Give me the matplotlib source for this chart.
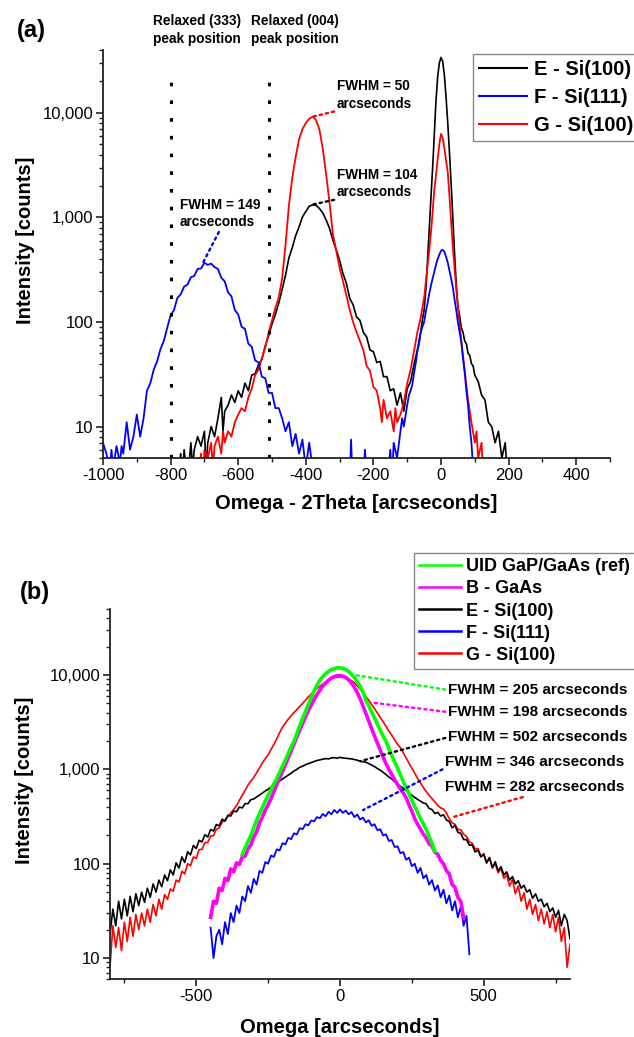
import numpy as np
import matplotlib
matplotlib.use('Agg')
import matplotlib.pyplot as plt
from matplotlib.ticker import MultipleLocator, FuncFormatter, LogLocator, NullFormatter

plt.rcParams['font.family'] = ['Liberation Sans', 'DejaVu Sans']
plt.rcParams['axes.unicode_minus'] = False

# ---------------- panel (a): omega-2theta scans, (x arcsec, counts) ----------------
E_a = [(-780, 3), (-770, 5.5), (-765, 3), (-760, 6), (-750, 3), (-740, 7), (-735, 4), (-730, 6),
       (-720, 8), (-710, 6.5), (-700, 9), (-695, 4), (-690, 7), (-680, 10), (-670, 8), (-660, 12),
       (-650, 19), (-645, 9), (-640, 14), (-630, 16), (-620, 20), (-610, 17), (-600, 22), (-590, 19),
       (-580, 26), (-570, 22), (-560, 31), (-550, 32), (-540, 39), (-530, 44), (-520, 59), (-510, 74),
       (-500, 96), (-490, 118), (-480, 152), (-470, 205), (-460, 280), (-450, 410), (-440, 515),
       (-430, 670), (-420, 810), (-410, 1010), (-400, 1140), (-390, 1280), (-380, 1320), (-370, 1310),
       (-360, 1220), (-350, 1110), (-340, 950), (-330, 790), (-320, 610), (-310, 490), (-300, 390),
       (-290, 290), (-280, 235), (-270, 168), (-260, 146), (-250, 112), (-240, 104), (-230, 80),
       (-220, 72), (-210, 54), (-200, 52), (-190, 41), (-180, 42), (-170, 30), (-160, 30), (-150, 22),
       (-140, 23), (-130, 16), (-120, 21), (-110, 14), (-100, 23), (-90, 27), (-80, 39), (-70, 54),
       (-60, 80), (-55, 105), (-50, 130), (-45, 200), (-40, 380), (-35, 750), (-30, 1500), (-25, 2900),
       (-20, 6000), (-15, 12800), (-10, 22000), (-5, 30000), (0, 34000), (5, 31000), (10, 23000),
       (15, 14000), (20, 8000), (25, 4200), (30, 2100), (35, 1000), (40, 460), (45, 230), (50, 140),
       (55, 115), (60, 88), (65, 80), (70, 66), (75, 62), (80, 50), (85, 48), (90, 40), (95, 38),
       (100, 31), (110, 27), (120, 20), (130, 18), (140, 11), (150, 10), (160, 7), (170, 9), (180, 5),
       (190, 7), (195, 4), (200, 3)]

F_a = [(-1000, 7), (-990, 5.5), (-980, 4), (-975, 6), (-970, 4), (-960, 6.5), (-950, 4.5), (-945, 6.5),
       (-940, 5.5), (-930, 11), (-920, 6), (-910, 8), (-900, 13), (-890, 8), (-880, 12), (-870, 22),
       (-860, 26), (-850, 35), (-840, 42), (-830, 55), (-820, 66), (-810, 88), (-800, 116), (-790, 130),
       (-780, 170), (-770, 184), (-760, 218), (-750, 228), (-740, 268), (-730, 276), (-720, 322),
       (-710, 325), (-700, 368), (-690, 352), (-680, 362), (-670, 335), (-660, 322), (-650, 265),
       (-640, 245), (-630, 192), (-620, 176), (-610, 130), (-600, 118), (-590, 90), (-580, 86),
       (-570, 62), (-560, 58), (-550, 43), (-540, 41), (-530, 30), (-520, 29), (-510, 21), (-500, 21),
       (-490, 15), (-480, 15), (-470, 12), (-460, 9), (-450, 11), (-440, 6.5), (-430, 8.5), (-420, 5.5),
       (-410, 7.5), (-400, 4), (-390, 7), (-380, 4), (-360, 3), (-300, 3), (-270, 3), (-266, 7.5),
       (-262, 3), (-230, 3), (-225, 6), (-220, 3), (-160, 3), (-150, 6), (-145, 3), (-140, 7), (-130, 5),
       (-120, 9), (-115, 12), (-110, 10), (-100, 16), (-95, 20), (-90, 22), (-85, 25), (-80, 32),
       (-75, 40), (-70, 52), (-65, 62), (-60, 80), (-55, 90), (-50, 100), (-45, 125), (-40, 150),
       (-35, 185), (-30, 220), (-25, 260), (-20, 300), (-15, 350), (-10, 400), (-5, 440), (0, 480),
       (5, 490), (10, 470), (15, 420), (20, 370), (25, 310), (30, 260), (35, 215), (40, 165), (45, 130),
       (50, 100), (55, 80), (60, 65), (65, 45), (70, 33), (75, 22), (80, 16), (85, 10), (90, 7), (95, 4),
       (100, 3), (150, 3)]

G_a = [(-720, 3), (-710, 5.5), (-705, 3), (-700, 6), (-690, 5), (-680, 7), (-675, 4), (-670, 6.5),
       (-660, 8), (-650, 5.5), (-645, 9), (-640, 7), (-630, 9), (-620, 8), (-610, 11), (-600, 13),
       (-590, 15), (-580, 14), (-570, 19), (-560, 23), (-550, 31), (-540, 35), (-530, 45), (-520, 57),
       (-510, 79), (-500, 103), (-490, 137), (-480, 172), (-470, 262), (-460, 550), (-450, 1300),
       (-440, 2400), (-430, 3800), (-420, 5600), (-410, 7000), (-400, 8000), (-390, 8800), (-380, 9200),
       (-370, 8600), (-360, 7000), (-350, 4600), (-340, 2600), (-330, 1400), (-320, 700), (-310, 480),
       (-300, 330), (-290, 245), (-280, 180), (-270, 130), (-260, 100), (-250, 80), (-240, 66),
       (-230, 54), (-220, 38), (-210, 34), (-200, 24), (-190, 22), (-180, 15), (-175, 11), (-170, 18),
       (-160, 12), (-150, 14), (-140, 9), (-135, 15), (-130, 11), (-120, 13), (-110, 17), (-100, 26),
       (-90, 35), (-80, 52), (-70, 80), (-60, 110), (-50, 170), (-40, 340), (-35, 480), (-30, 700),
       (-25, 1100), (-20, 1800), (-15, 2500), (-10, 3600), (-5, 5000), (0, 6300), (5, 5800), (10, 4600),
       (15, 3500), (20, 2700), (25, 1600), (30, 900), (35, 520), (40, 330), (45, 210), (50, 140),
       (55, 95), (60, 66), (70, 35), (80, 18), (90, 11), (100, 7), (105, 9), (110, 5), (120, 7),
       (125, 3), (160, 3)]

relaxed_pos = [-800, -510]   # relaxed (333) and (004) peak positions

# ---------------- panel (b): omega rocking curves, 10 arcsec grid ----------------
x_wide = np.arange(-800, 801, 10)
E_b = [18, 33, 22, 40, 26, 42, 28, 45, 31, 48,
       36, 50, 39, 55, 44, 61, 50, 67, 57, 76,
       66, 86, 76, 102, 90, 118, 103, 134, 124, 156,
       145, 177, 170, 203, 192, 230, 222, 260, 252, 296,
       282, 326, 320, 362, 355, 398, 390, 433, 433, 478,
       485, 510, 535, 560, 590, 615, 650, 680, 715, 750,
       790, 830, 870, 910, 960, 1000, 1050, 1080, 1120, 1150,
       1180, 1210, 1240, 1260, 1280, 1300, 1290, 1320, 1330, 1310,
       1340, 1320, 1310, 1300, 1290, 1270, 1250, 1220, 1200, 1190,
       1150, 1110, 1070, 1020, 980, 930, 880, 830, 790, 740,
       700, 660, 630, 595, 560, 530, 505, 480, 460, 440,
       430, 385, 375, 340, 350, 320, 330, 290, 280, 240,
       255, 215, 210, 180, 180, 157, 158, 133, 139, 118,
       125, 102, 116, 90, 105, 84, 93, 76, 82, 67,
       73, 61, 66, 55, 59, 50, 53, 43, 48, 40,
       42, 35, 38, 31, 34, 27, 32, 22, 29, 25,
       16]
G_b = [8, 22, 13, 21, 12, 24, 15, 27, 17, 29,
       20, 30, 22, 33, 24, 37, 28, 42, 33, 47,
       42, 54, 51, 67, 64, 83, 78, 100, 95, 118,
       114, 141, 142, 167, 168, 197, 198, 232, 240, 276,
       290, 315, 345, 375, 410, 470, 530, 600, 680, 750,
       820, 920, 1040, 1170, 1300, 1420, 1620, 1850, 2100, 2450,
       2800, 3100, 3400, 3700, 4000, 4300, 4650, 5000, 5400, 5850,
       6300, 6750, 7200, 7600, 8000, 8400, 8800, 9100, 9350, 9500,
       9550, 9500, 9300, 9000, 8700, 8300, 7700, 7100, 6500, 5900,
       5400, 4850, 4400, 3950, 3550, 3200, 2850, 2550, 2300, 2050,
       1850, 1700, 1500, 1320, 1160, 1030, 910, 800, 720, 640,
       580, 530, 490, 450, 415, 390, 380, 345, 300, 270,
       262, 230, 230, 205, 195, 170, 165, 142, 145, 120,
       128, 102, 116, 92, 100, 80, 89, 70, 76, 58,
       68, 48, 58, 40, 49, 33, 42, 29, 37, 25,
       33, 23, 31, 21, 29, 19, 27, 15, 21, 8,
       14]

x_F = np.arange(-450, 451, 10)
F_b = [21, 10, 17, 20, 14, 24, 18, 30, 24, 36,
       30, 45, 40, 58, 49, 69, 60, 84, 80, 104,
       100, 122, 118, 142, 138, 165, 160, 188, 182, 210,
       204, 238, 232, 262, 255, 287, 281, 312, 303, 337,
       318, 355, 333, 372, 345, 375, 346, 366, 334, 352,
       312, 332, 294, 308, 274, 288, 252, 262, 226, 232,
       199, 205, 174, 178, 150, 153, 129, 133, 110, 116,
       94, 100, 80, 90, 70, 76, 60, 67, 52, 59,
       44, 53, 38, 46, 32, 40, 27, 35, 22, 28,
       11]

x_B = np.arange(-450, 431, 10)
B_b = [27, 40, 38, 55, 52, 70, 66, 88, 82, 102,
       98, 118, 120, 145, 158, 192, 218, 272, 310, 370,
       420, 490, 580, 690, 810, 950, 1120, 1320, 1560, 1850,
       2200, 2600, 3050, 3600, 4200, 4800, 5500, 6200, 6900, 7600,
       8200, 8800, 9300, 9600, 9800, 9850, 9700, 9400, 8900, 8200,
       7400, 6500, 5600, 4700, 3900, 3250, 2700, 2250, 1900, 1600,
       1350, 1150, 1000, 880, 780, 690, 620, 560, 500, 420,
       360, 300, 262, 232, 205, 186, 162, 154, 132, 126,
       108, 100, 84, 78, 60, 56, 44, 40, 27]

x_ref = np.arange(-340, 331, 10)
ref_b = [125, 148, 172, 200, 240, 290, 340, 395, 460, 530,
         610, 700, 800, 930, 1080, 1260, 1470, 1720, 2000, 2400,
         2900, 3450, 4100, 4900, 5800, 6800, 7800, 8800, 9600, 10300,
         10900, 11400, 11700, 11900, 11900, 11750, 11400, 10900, 10200, 9400,
         8500, 7600, 6600, 5400, 4700, 4050, 3500, 3000, 2600, 2250,
         2000, 1650, 1400, 1200, 1030, 880, 740, 640, 550, 470,
         405, 350, 300, 265, 230, 195, 165, 135]

# ---------------- figure ----------------
W, H = 634, 1037
fig = plt.figure(figsize=(W / 100, H / 100), dpi=100)


def px_box(l, t, r, b):
    return [l / W, 1 - b / H, (r - l) / W, (b - t) / H]


ax1 = fig.add_axes(px_box(103, 50, 610, 458))
ax2 = fig.add_axes(px_box(110, 609, 570, 979))

fmt = FuncFormatter(lambda v, p: f'{int(round(v)):,}')
for ax in (ax1, ax2):
    ax.set_yscale('log')
    ax.yaxis.set_major_locator(LogLocator(base=10, numticks=10))
    ax.yaxis.set_minor_locator(LogLocator(base=10, subs=np.arange(2, 10), numticks=10))
    ax.yaxis.set_major_formatter(fmt)
    ax.yaxis.set_minor_formatter(NullFormatter())
    for s in ('top', 'right'):
        ax.spines[s].set_visible(False)
    for s in ('left', 'bottom'):
        ax.spines[s].set_linewidth(1.3)
        ax.spines[s].set_color('#222222')
    ax.tick_params(which='major', direction='out', length=5, width=1.2, labelsize=12, pad=2,
                   color='#222222')
    ax.tick_params(which='minor', direction='out', length=3, width=1.0, color='#222222')

# panel (a)
lE, = ax1.plot(*zip(*E_a), color='black', lw=1.2)
lG, = ax1.plot(*zip(*G_a), color='red', lw=1.3)
lF, = ax1.plot(*zip(*F_a), color='blue', lw=1.3)
ax1.vlines(relaxed_pos, 5, 23000, colors='black', lw=2.2, linestyles=[(0, (1.2, 4.6))])
ax1.set_xlim(-1000, 500)
ax1.set_ylim(5, 40000)
ax1.xaxis.set_major_locator(MultipleLocator(200))
ax1.xaxis.set_minor_locator(MultipleLocator(100))

ax1.set_xlabel('Omega - 2Theta [arcseconds]', fontsize=14.5, fontweight='bold')
ax1.xaxis.set_label_coords(0.5, -0.088)
ax1.set_ylabel('Intensity [counts]', fontsize=14.5, fontweight='bold')
ax1.yaxis.set_label_coords(-0.134, 0.534)

txt = dict(fontsize=9.8, fontweight='bold', linespacing=1.3)
for xpos, label in zip(relaxed_pos, ['Relaxed (333)\npeak position', 'Relaxed (004)\npeak position']):
    ax1.text(xpos - 52, 1.049, label, transform=ax1.get_xaxis_transform(), ha='left', va='center', **txt)


def lead(color, rel):
    return dict(arrowstyle='-', linestyle=':', color=color, lw=1.7, shrinkA=0, shrinkB=0, relpos=rel)


ax1.annotate('FWHM = 149\narcseconds', xy=(-705, 365), xytext=(-772, 1090), ha='left', va='center',
             arrowprops=lead('blue', (0.5, 0)), **txt)
ax1.annotate('FWHM = 50\narcseconds', xy=(-380, 9200), xytext=(-308, 14800), ha='left', va='center',
             arrowprops=lead('red', (0, 0)), **txt)
ax1.annotate('FWHM = 104\narcseconds', xy=(-380, 1330), xytext=(-308, 2110), ha='left', va='center',
             arrowprops=lead('black', (0, 0)), **txt)

leg1 = ax1.legend([lE, lF, lG], ['E - Si(100)', 'F - Si(111)', 'G - Si(100)'], loc='upper left',
                  bbox_to_anchor=(473 / W, 1 - 54 / H), bbox_transform=fig.transFigure,
                  prop={'weight': 'bold', 'size': 14.5}, fancybox=False, edgecolor='#888888',
                  framealpha=1, borderpad=0.3, labelspacing=0.45, handlelength=2.4,
                  handletextpad=0.35, borderaxespad=0)
leg1.get_frame().set_linewidth(1.0)
for l in leg1.get_lines():
    l.set_linewidth(1.5)

# panel (b)
lGb, = ax2.plot(x_wide, G_b, color='red', lw=1.2)
lEb, = ax2.plot(x_wide, E_b, color='black', lw=1.2)
lFb, = ax2.plot(x_F, F_b, color='blue', lw=1.3)
lBb, = ax2.plot(x_B, B_b, color='#ff00ff', lw=2.6)
lRb, = ax2.plot(x_ref, ref_b, color='#00ff00', lw=2.6)
ax2.set_xlim(-800, 800)
ax2.set_ylim(6, 50000)
ax2.xaxis.set_major_locator(MultipleLocator(500))
ax2.xaxis.set_minor_locator(MultipleLocator(250))

ax2.set_xlabel('Omega [arcseconds]', fontsize=14.5, fontweight='bold')
ax2.xaxis.set_label_coords(0.5, -0.105)
ax2.set_ylabel('Intensity [counts]', fontsize=14.5, fontweight='bold')
ax2.yaxis.set_label_coords(-0.165, 0.538)

txt_b = dict(fontsize=11, fontweight='bold')
ax2.annotate('FWHM = 205 arcseconds', xy=(50, 10000), xytext=(376, 6925), ha='left', va='center',
             arrowprops=lead('#00ff00', (0, 0.5)), **txt_b)
ax2.annotate('FWHM = 198 arcseconds', xy=(111, 5100), xytext=(376, 4040), ha='left', va='center',
             arrowprops=lead('#ff00ff', (0, 0.5)), **txt_b)
ax2.annotate('FWHM = 502 arcseconds', xy=(70, 1220), xytext=(376, 2190), ha='left', va='center',
             arrowprops=lead('black', (0, 0.5)), **txt_b)
ax2.annotate('FWHM = 346 arcseconds', xy=(80, 370), xytext=(366, 1186), ha='left', va='center',
             arrowprops=lead('blue', (0, 0.1)), **txt_b)
ax2.annotate('FWHM = 282 arcseconds', xy=(390, 310), xytext=(366, 645), ha='left', va='center',
             arrowprops=lead('red', (0.5, 0.05)), **txt_b)

leg2 = ax2.legend([lRb, lBb, lEb, lFb, lGb],
                  ['UID GaP/GaAs (ref)', 'B - GaAs', 'E - Si(100)', 'F - Si(111)', 'G - Si(100)'],
                  loc='upper left', bbox_to_anchor=(414 / W, 1 - 553 / H), bbox_transform=fig.transFigure,
                  prop={'weight': 'bold', 'size': 13}, fancybox=False, edgecolor='#888888',
                  framealpha=1, borderpad=0.3, labelspacing=0.28, handlelength=2.3,
                  handletextpad=0.3, borderaxespad=0)
leg2.get_frame().set_linewidth(1.0)
for l in leg2.get_lines():
    l.set_linewidth(1.8)

fig.text(31 / W, 1 - 31 / H, '(a)', ha='center', va='center', fontsize=17, fontweight='bold')
fig.text(35 / W, 1 - 592 / H, '(b)', ha='center', va='center', fontsize=17, fontweight='bold')

fig.savefig('out.png', dpi=100)
